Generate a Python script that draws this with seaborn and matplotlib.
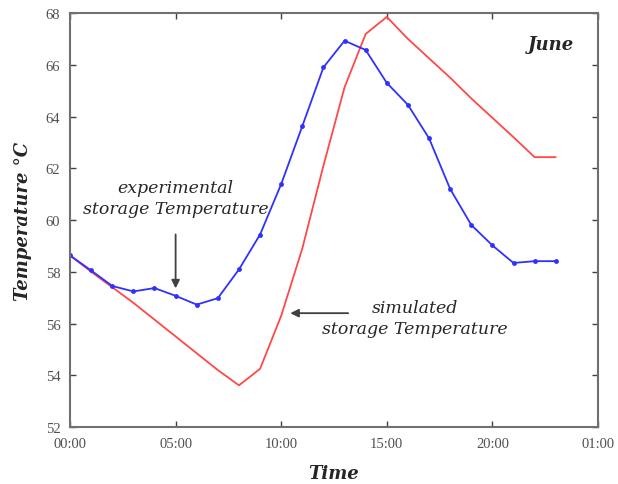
import matplotlib
matplotlib.use("Agg")
import matplotlib.pyplot as plt
import seaborn as sns
import pandas as pd

hours = list(range(24))
experimental = [58.63, 58.05, 57.45, 57.24, 57.37, 57.07, 56.73, 56.98, 58.09, 59.44,
                61.39, 63.63, 65.90, 66.93, 66.57, 65.30, 64.45, 63.16, 61.20, 59.81,
                59.02, 58.34, 58.41, 58.41]
simulated = [58.63, 58.0, 57.4, 56.8, 56.15, 55.5, 54.85, 54.2, 53.61, 54.25,
             56.3, 58.9, 62.1, 65.13, 67.19, 67.85, 67.0, 66.25, 65.5, 64.7,
             63.95, 63.2, 62.43, 62.43]
xtick_pos = [0, 5, 10, 15, 20, 25]
xtick_labels = ["00:00", "05:00", "10:00", "15:00", "20:00", "01:00"]
ytick_pos = [52, 54, 56, 58, 60, 62, 64, 66, 68]

df = pd.DataFrame({"hour": hours, "experimental": experimental, "simulated": simulated})

sns.set_style("ticks")
fig = plt.figure(figsize=(6.18, 4.85), dpi=100)
ax = fig.add_axes([0.1133, 0.1175, 0.8543, 0.8536])

sns.lineplot(data=df, x="hour", y="simulated", ax=ax, color="#ff4848", lw=1.3)
sns.lineplot(data=df, x="hour", y="experimental", ax=ax, color="#3030ff", lw=1.3,
             marker="o", markersize=3.5, markeredgewidth=0)

ax.set_xlim(0, 25)
ax.set_ylim(52, 68)
ax.set_xticks(xtick_pos)
ax.set_xticklabels(xtick_labels)
ax.set_yticks(ytick_pos)
ax.tick_params(direction="in", top=True, right=True, length=4, width=1, color="#404040",
               labelsize=10.5, labelcolor="#505050", pad=7)
for lab in ax.get_xticklabels() + ax.get_yticklabels():
    lab.set_family("Liberation Serif")
for sp in ax.spines.values():
    sp.set_color("#707070")
    sp.set_linewidth(1.5)

ax.set_xlabel("Time", family="DejaVu Serif", style="italic", weight="bold", fontsize=13, labelpad=10)
ax.set_ylabel("Temperature \u00b0C", family="DejaVu Serif", style="italic", weight="bold", fontsize=13, labelpad=10)

ax.text(0.955, 0.925, "June", transform=ax.transAxes, ha="right", va="center",
        family="DejaVu Serif", style="italic", weight="bold", fontsize=13)

ax.annotate("", xy=(5.0, 57.25), xytext=(5.0, 59.55),
            arrowprops=dict(arrowstyle="-|>", color="#404040", lw=1.3, mutation_scale=12))
ax.text(5.0, 60.85, "experimental\nstorage Temperature", ha="center", va="center",
        family="DejaVu Serif", style="italic", fontsize=12.5, linespacing=1.3)

ax.annotate("", xy=(10.3, 56.4), xytext=(13.3, 56.4),
            arrowprops=dict(arrowstyle="-|>", color="#404040", lw=1.3, mutation_scale=12))
ax.text(16.35, 56.2, "simulated\nstorage Temperature", ha="center", va="center",
        family="DejaVu Serif", style="italic", fontsize=12.5, linespacing=1.3)

fig.savefig("out.png", dpi=100)
